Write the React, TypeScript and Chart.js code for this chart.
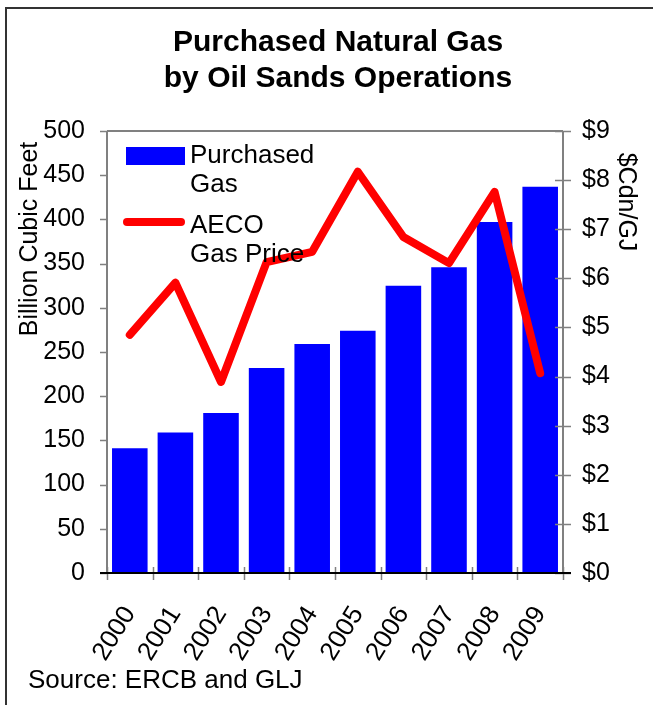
import React, { useEffect, useRef } from "react";
import { Chart, registerables } from "chart.js";

Chart.register(...registerables);

const years = ["2000", "2001", "2002", "2003", "2004", "2005", "2006", "2007", "2008", "2009"];
const purchasedGas = [141, 159, 181, 232, 259, 274, 325, 346, 397, 437];
const aecoPrice = [4.85, 5.91, 3.89, 6.33, 6.54, 8.17, 6.84, 6.31, 7.76, 4.07];
const leftTicks = [0, 50, 100, 150, 200, 250, 300, 350, 400, 450, 500];
const rightTicks = [0, 1, 2, 3, 4, 5, 6, 7, 8, 9];

const titleLines = ["Purchased Natural Gas", "by Oil Sands Operations"];
const leftTitle = "Billion Cubic Feet";
const rightTitle = "$Cdn/GJ";
const sourceText = "Source: ERCB and GLJ";
const legendBar = ["Purchased", "Gas"];
const legendLine = ["AECO", "Gas Price"];

const FONT = '"Liberation Sans", Arial, sans-serif';
const BLUE = "#0000FF";
const RED = "#FF0000";

const decorPlugin = {
  id: "decor",
  afterDraw(chart: any) {
    const ctx = chart.ctx as CanvasRenderingContext2D;
    const a = chart.chartArea;
    const y = chart.scales.y;
    const y1 = chart.scales.y1;
    ctx.save();

    // frame
    ctx.strokeStyle = "#333";
    ctx.lineWidth = 2;
    ctx.beginPath();
    ctx.moveTo(6, 705);
    ctx.lineTo(6, 8);
    ctx.lineTo(653, 8);
    ctx.stroke();

    // top border & side axes (gray)
    ctx.strokeStyle = "#808080";
    ctx.lineWidth = 2;
    ctx.beginPath();
    ctx.moveTo(a.left, a.top);
    ctx.lineTo(a.right, a.top);
    ctx.moveTo(a.left, a.top);
    ctx.lineTo(a.left, a.bottom);
    ctx.moveTo(a.right, a.top);
    ctx.lineTo(a.right, a.bottom);
    ctx.stroke();

    // left ticks (outward)
    ctx.lineWidth = 1.5;
    ctx.beginPath();
    leftTicks.forEach((v) => {
      const py = Math.round(y.getPixelForValue(v)) + 0.5;
      ctx.moveTo(a.left - 7, py);
      ctx.lineTo(a.left, py);
    });
    // right ticks (cross)
    rightTicks.forEach((v) => {
      const py = Math.round(y1.getPixelForValue(v)) + 0.5;
      ctx.moveTo(a.right - 8, py);
      ctx.lineTo(a.right + 8, py);
    });
    // x ticks (cross) at category boundaries
    const n = years.length;
    for (let i = 0; i <= n; i++) {
      const px = Math.round(a.left + ((a.right - a.left) * i) / n) + 0.5;
      ctx.moveTo(px, a.bottom - 6);
      ctx.lineTo(px, a.bottom + 7);
    }
    ctx.stroke();

    // bottom axis (black)
    ctx.strokeStyle = "#000";
    ctx.lineWidth = 2;
    ctx.beginPath();
    ctx.moveTo(a.left - 7, a.bottom);
    ctx.lineTo(a.right + 8, a.bottom);
    ctx.stroke();

    // title
    ctx.fillStyle = "#000";
    ctx.font = `bold 30px ${FONT}`;
    ctx.textAlign = "center";
    ctx.textBaseline = "alphabetic";
    ctx.fillText(titleLines[0], 338, 51);
    ctx.fillText(titleLines[1], 338, 87);

    // axis titles
    ctx.font = `25px ${FONT}`;
    ctx.save();
    ctx.translate(37, 239);
    ctx.rotate(-Math.PI / 2);
    ctx.fillText(leftTitle, 0, 0);
    ctx.restore();
    ctx.save();
    ctx.translate(619, 202);
    ctx.rotate(Math.PI / 2);
    ctx.fillText(rightTitle, 0, 0);
    ctx.restore();

    // legend
    ctx.textAlign = "left";
    ctx.fillStyle = BLUE;
    ctx.fillRect(126, 147, 59, 18);
    ctx.strokeStyle = RED;
    ctx.lineWidth = 8;
    ctx.lineCap = "round";
    ctx.beginPath();
    ctx.moveTo(127, 222);
    ctx.lineTo(181, 222);
    ctx.stroke();
    ctx.fillStyle = "#000";
    ctx.font = `26px ${FONT}`;
    ctx.fillText(legendBar[0], 190, 163);
    ctx.fillText(legendBar[1], 190, 192);
    ctx.fillText(legendLine[0], 190, 233);
    ctx.fillText(legendLine[1], 190, 262);

    // source
    ctx.fillText(sourceText, 28, 688);

    ctx.restore();
  },
};

export default function App() {
  const ref = useRef<HTMLCanvasElement>(null);
  useEffect(() => {
    if (!ref.current) return;
    const chart = new Chart(ref.current, {
      type: "bar",
      data: {
        labels: years,
        datasets: [
          {
            type: "line",
            label: "AECO Gas Price",
            data: aecoPrice,
            yAxisID: "y1",
            borderColor: RED,
            backgroundColor: RED,
            borderWidth: 8,
            pointRadius: 0,
            tension: 0,
            borderJoinStyle: "round",
            borderCapStyle: "round",
            order: 0,
          } as any,
          {
            type: "bar",
            label: "Purchased Gas",
            data: purchasedGas,
            yAxisID: "y",
            backgroundColor: BLUE,
            borderWidth: 0,
            barPercentage: 0.78,
            categoryPercentage: 1,
            order: 1,
          },
        ],
      },
      options: {
        responsive: false,
        animation: false,
        layout: { padding: { top: 131, left: 0, right: 0, bottom: 0 } },
        plugins: {
          legend: { display: false },
          title: { display: false },
          tooltip: { enabled: false },
        },
        scales: {
          x: {
            offset: true,
            grid: { display: false, drawTicks: false },
            border: { display: false },
            ticks: {
              color: "#000",
              font: { family: FONT, size: 26 },
              minRotation: 58,
              maxRotation: 58,
              autoSkip: false,
              padding: 28,
            },
            afterFit: (s: any) => {
              s.height = 132;
            },
          },
          y: {
            position: "left",
            min: 0,
            max: 500,
            grid: { display: false, drawTicks: false },
            border: { display: false },
            ticks: {
              stepSize: 50,
              color: "#000",
              font: { family: FONT, size: 25 },
              padding: 22,
            },
            afterFit: (s: any) => {
              s.width = 107;
            },
          },
          y1: {
            position: "right",
            min: 0,
            max: 9,
            grid: { display: false, drawTicks: false },
            border: { display: false },
            ticks: {
              stepSize: 1,
              color: "#000",
              font: { family: FONT, size: 25 },
              padding: 19,
              callback: (v: any) => "$" + v,
            },
            afterFit: (s: any) => {
              s.width = 90;
            },
          },
        },
      },
      plugins: [decorPlugin],
    });
    return () => chart.destroy();
  }, []);
  return (
    <div style={{ position: "absolute", left: 0, top: 0, width: 653, height: 705, background: "#fff" }}>
      <canvas ref={ref} width={653} height={705} style={{ display: "block" }} />
    </div>
  );
}
